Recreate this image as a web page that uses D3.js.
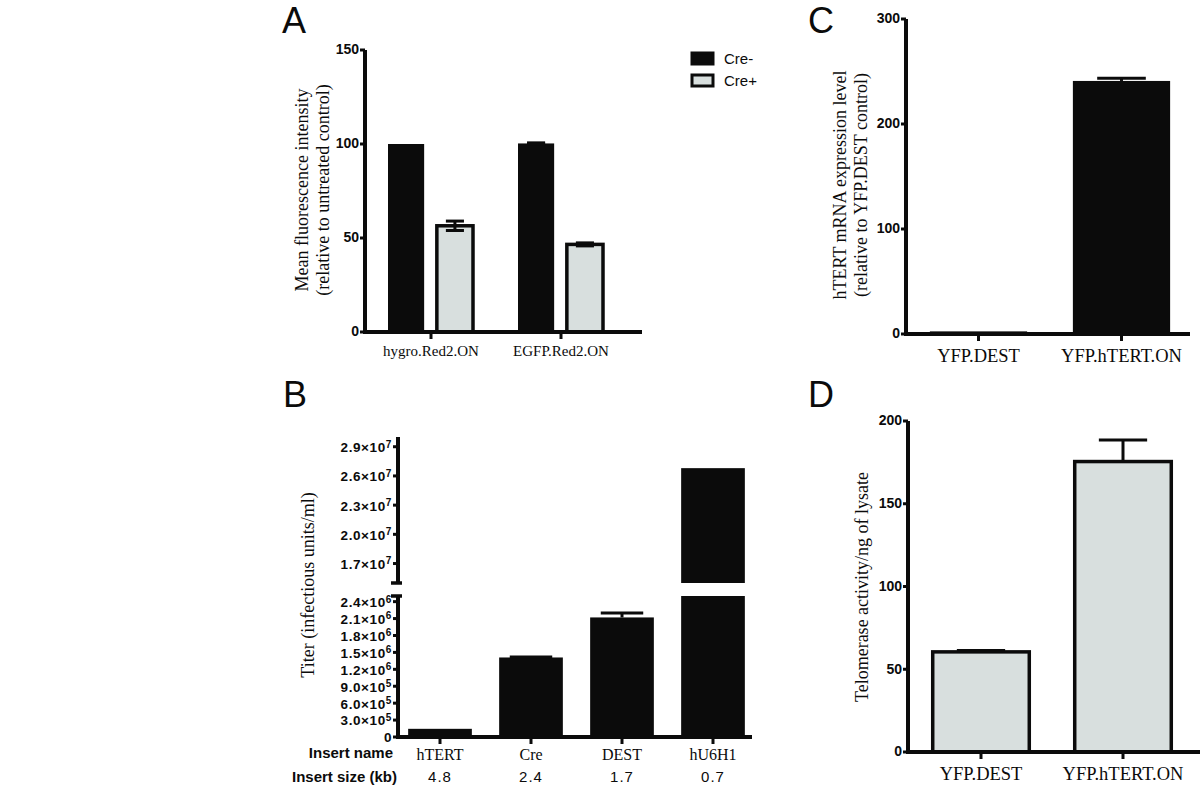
<!DOCTYPE html>
<html><head><meta charset="utf-8">
<script src="https://cdn.jsdelivr.net/npm/d3@7"></script>
<style>
html,body{margin:0;padding:0;background:#fff;}
svg{display:block;}
.domain{stroke-width:4px !important;stroke:#0b0b0b !important;}
.tick line{stroke-width:3px !important;stroke:#0b0b0b !important;}
</style></head>
<body>
<svg id="chart" width="1200" height="788"></svg>
<script>
// ---------------- DATA ----------------
// Panel A
const groupsA = ["hygro.Red2.ON", "EGFP.Red2.ON"];
const seriesA = ["Cre-", "Cre+"];
const creMinusA = [100, 100.3];
const creMinusErrA = [0, 0.3];
const crePlusA = [56.5, 46.6];
const crePlusErrA = [2.5, 0.8];
const ticksA = [0, 50, 100, 150];
// Panel B
const namesB = ["hTERT", "Cre", "DEST", "hU6H1"];
const sizesB = ["4.8", "2.4", "1.7", "0.7"];
const valuesB = [1.45e5, 1.41e6, 2.12e6, 2.68e7];
const errB = [0, 0.01e6, 0.08e6, 0];
const ticksBLow = [0, 3e5, 6e5, 9e5, 1.2e6, 1.5e6, 1.8e6, 2.1e6, 2.4e6];
const ticksBHigh = [1.7e7, 2.0e7, 2.3e7, 2.6e7, 2.9e7];
// Panel C
const catsC = ["YFP.DEST", "YFP.hTERT.ON"];
const valuesC = [2.5, 241];
const errC = [0.2, 2.5];
const ticksC = [0, 100, 200, 300];
// Panel D
const catsD = ["YFP.DEST", "YFP.hTERT.ON"];
const valuesD = [60.5, 175.5];
const errD = [0.8, 13];
const ticksD = [0, 50, 100, 150, 200];

// ---------------- STYLE ----------------
const BLACK = "#0b0b0b";
const GRAY = "#d8dfde";
const SANS = "'Liberation Sans', Arial, sans-serif";
const SERIF = "'Liberation Serif', 'Times New Roman', serif";

const svg = d3.select("#chart");

function styleAxis(g, fs) {
  g.selectAll(".domain").style("fill", "none");
  g.selectAll(".tick text").style("fill", BLACK).style("font-family", SANS)
    .style("font-weight", "bold").style("font-size", (fs || 14) + "px");
}
function catLabels(g, fs, yOff) {
  g.selectAll(".tick text").style("font-family", SERIF).style("font-weight", "normal")
    .style("font-size", fs + "px").attr("y", yOff);
}
function panelLetter(t, x, y) {
  svg.append("text").attr("x", x).attr("y", y).text(t)
    .style("font-family", SANS).style("font-size", "36px").style("fill", BLACK);
}
function yTitle(lines, cx, cy, fs) {
  const t = svg.append("text").attr("transform", `translate(${cx},${cy}) rotate(-90)`)
    .attr("text-anchor", "middle").style("font-family", SERIF).style("font-size", fs + "px").style("fill", BLACK);
  lines.forEach((l, i) => {
    t.append("tspan").attr("x", 0).attr("dy", i === 0 ? 0 : "1.15em").text(l);
  });
}
function errBar(g, cx, yTop, yBot, halfW, both, yCenter) {
  const st = s => s.style("stroke", BLACK).style("stroke-width", "3px");
  st(g.append("line").attr("x1", cx).attr("x2", cx).attr("y1", yTop).attr("y2", both ? yBot : yCenter));
  st(g.append("line").attr("x1", cx - halfW).attr("x2", cx + halfW).attr("y1", yTop).attr("y2", yTop));
  if (both) st(g.append("line").attr("x1", cx - halfW).attr("x2", cx + halfW).attr("y1", yBot).attr("y2", yBot));
}

// ================= PANEL A =================
{
  const y = d3.scaleLinear().domain([0, 150]).range([332, 50]);
  const x0 = d3.scaleBand().domain(groupsA).range([366, 626]);
  const x1 = d3.scaleBand().domain(seriesA).range([22, 107]).paddingInner(0.26);
  const axX = 365;
  const g = svg.append("g");
  const data = groupsA.map((grp, i) => [
    {grp, s: "Cre-", v: creMinusA[i], e: creMinusErrA[i]},
    {grp, s: "Cre+", v: crePlusA[i], e: crePlusErrA[i]}
  ]).flat();
  data.forEach(d => {
    const bx = x0(d.grp) + x1(d.s), bw = x1.bandwidth();
    const isMinus = d.s === "Cre-";
    g.append("rect").attr("x", bx).attr("y", y(d.v)).attr("width", bw).attr("height", y(0) - y(d.v))
      .style("fill", isMinus ? BLACK : GRAY).style("stroke", BLACK).style("stroke-width", isMinus ? "0px" : "3.5px");
    if (d.e > 0) errBar(g, bx + bw / 2, y(d.v + d.e), y(d.v - d.e), bw / 4, true, y(d.v));
  });
  const ya = svg.append("g").attr("transform", `translate(${axX},0)`)
    .call(d3.axisLeft(y).tickValues(ticksA).tickSize(5).tickSizeOuter(0).tickFormat(d3.format("d")).offset(0));
  styleAxis(ya);
  ya.selectAll(".tick text").attr("x", -6);
  const xa = svg.append("g").attr("transform", `translate(0,${y(0)})`)
    .call(d3.axisBottom(x0).tickSize(7).tickSizeOuter(0).offset(0));
  styleAxis(xa);
  xa.select(".domain").attr("d", `M${axX - 2},0H642`);
  catLabels(xa, 15, 13);
  // legend
  const lg = svg.append("g");
  seriesA.forEach((s, i) => {
    lg.append("rect").attr("x", 692).attr("y", 53 + i * 22).attr("width", 21).attr("height", 11)
      .style("fill", i === 0 ? BLACK : GRAY).style("stroke", BLACK).style("stroke-width", "3px");
    lg.append("text").attr("x", 724).attr("y", 64 + i * 22).text(s)
      .style("font-family", SANS).style("font-size", "15px").style("fill", BLACK);
  });
  yTitle(["Mean fluorescence intensity", "(relative to untreated control)"], 308, 190, 18);
  panelLetter("A", 282, 33);
}

// ================= PANEL B =================
{
  const axX = 398;
  const yLow = d3.scaleLinear().domain([0, 2.5e6]).range([737, 596]);
  const yHigh = d3.scaleLinear().domain([1.5e7, 3.0e7]).range([583, 437]);
  const x = d3.scaleBand().domain(namesB).range([394.5, 758.5]).paddingInner(0.3).paddingOuter(0.15);
  const g = svg.append("g");
  namesB.forEach((n, i) => {
    const v = valuesB[i], bx = x(n), bw = x.bandwidth();
    if (v <= 2.5e6) {
      g.append("rect").attr("x", bx).attr("y", yLow(v)).attr("width", bw).attr("height", yLow(0) - yLow(v)).style("fill", BLACK);
      if (errB[i] > 0) errBar(g, bx + bw / 2, yLow(v + errB[i]), 0, bw / 3, false, yLow(v));
    } else {
      g.append("rect").attr("x", bx).attr("y", yLow(2.5e6)).attr("width", bw).attr("height", yLow(0) - yLow(2.5e6)).style("fill", BLACK);
      g.append("rect").attr("x", bx).attr("y", yHigh(v)).attr("width", bw).attr("height", yHigh(1.5e7) - yHigh(v)).style("fill", BLACK);
    }
  });
  const sciFmt = function(sel) {
    sel.selectAll(".tick text").style("font-size", "13.5px").style("letter-spacing", "0.6px").each(function(d) {
      const t = d3.select(this).text(null);
      if (d === 0) { t.text("0"); return; }
      const ex = Math.floor(Math.log10(d) + 1e-9);
      const m = (d / Math.pow(10, ex)).toFixed(1);
      t.append("tspan").text(m + "×10");
      t.append("tspan").attr("dy", "-0.45em").style("font-size", "10px").text(ex);
    });
  };
  const ylo = svg.append("g").attr("transform", `translate(${axX},0)`)
    .call(d3.axisLeft(yLow).tickValues(ticksBLow).tickSize(5).tickSizeOuter(0).offset(0));
  styleAxis(ylo); sciFmt(ylo); ylo.selectAll(".tick text").attr("x", -6).attr("dy", "0.4em");
  const yhi = svg.append("g").attr("transform", `translate(${axX},0)`)
    .call(d3.axisLeft(yHigh).tickValues(ticksBHigh).tickSize(5).tickSizeOuter(0).offset(0));
  styleAxis(yhi); sciFmt(yhi); yhi.selectAll(".tick text").attr("x", -6).attr("dy", "0.4em");
  // break caps
  [yHigh(1.5e7), yLow(2.5e6)].forEach(yy => {
    svg.append("line").attr("x1", axX - 7).attr("x2", axX + 4).attr("y1", yy).attr("y2", yy)
      .style("stroke", BLACK).style("stroke-width", "3.5px");
  });
  const xa = svg.append("g").attr("transform", `translate(0,${yLow(0)})`)
    .call(d3.axisBottom(x).tickSize(7).tickSizeOuter(0).offset(0));
  styleAxis(xa);
  xa.select(".domain").attr("d", `M${axX - 2},0H752`);
  catLabels(xa, 16, 12);
  // insert size row
  namesB.forEach((n, i) => {
    svg.append("text").attr("x", x(n) + x.bandwidth() / 2).attr("y", 782).attr("text-anchor", "middle")
      .style("font-family", SANS).style("font-size", "15px").style("letter-spacing", "1px")
      .style("fill", BLACK).text(sizesB[i]);
  });
  svg.append("text").attr("x", 393).attr("y", 758).attr("text-anchor", "end").style("font-family", SANS)
    .style("font-weight", "bold").style("font-size", "15px").style("fill", BLACK).text("Insert name");
  svg.append("text").attr("x", 397).attr("y", 782).attr("text-anchor", "end").style("font-family", SANS)
    .style("font-weight", "bold").style("font-size", "15px").style("fill", BLACK).text("Insert size (kb)");
  yTitle(["Titer (infectious units/ml)"], 314, 585, 18);
  panelLetter("B", 283, 407);
}

// ================= PANEL C =================
{
  const axX = 906;
  const y = d3.scaleLinear().domain([0, 300]).range([334, 19]);
  const x = d3.scaleBand().domain(catsC).range([907, 1193]).paddingInner(0.32).paddingOuter(0.16);
  const g = svg.append("g");
  catsC.forEach((c, i) => {
    const bx = x(c), bw = x.bandwidth(), v = valuesC[i];
    g.append("rect").attr("x", bx).attr("y", y(v)).attr("width", bw).attr("height", y(0) - y(v)).style("fill", BLACK);
    if (i === 1) errBar(g, bx + bw / 2, y(v + errC[i]), 0, bw / 4, false, y(v));
  });
  const ya = svg.append("g").attr("transform", `translate(${axX},0)`)
    .call(d3.axisLeft(y).tickValues(ticksC).tickSize(5).tickSizeOuter(0).tickFormat(d3.format("d")).offset(0));
  styleAxis(ya); ya.selectAll(".tick text").attr("x", -6);
  const xa = svg.append("g").attr("transform", `translate(0,${y(0)})`)
    .call(d3.axisBottom(x).tickSize(7).tickSizeOuter(0).offset(0));
  styleAxis(xa);
  xa.select(".domain").attr("d", `M${axX - 2},0H1190`);
  catLabels(xa, 18.5, 15);
  yTitle(["hTERT mRNA expression level", "(relative to YFP.DEST control)"], 846, 185, 18);
  panelLetter("C", 808, 33);
}

// ================= PANEL D =================
{
  const axX = 908;
  const y = d3.scaleLinear().domain([0, 200]).range([752, 421]);
  const x = d3.scaleBand().domain(catsD).range([910, 1194]).paddingInner(0.32).paddingOuter(0.16);
  const g = svg.append("g");
  catsD.forEach((c, i) => {
    const bx = x(c), bw = x.bandwidth(), v = valuesD[i];
    errBar(g, bx + bw / 2, y(v + errD[i]), 0, bw / 4, false, y(v));
    g.append("rect").attr("x", bx).attr("y", y(v)).attr("width", bw).attr("height", y(0) - y(v))
      .style("fill", GRAY).style("stroke", BLACK).style("stroke-width", "3.5px");
  });
  const ya = svg.append("g").attr("transform", `translate(${axX},0)`)
    .call(d3.axisLeft(y).tickValues(ticksD).tickSize(5).tickSizeOuter(0).tickFormat(d3.format("d")).offset(0));
  styleAxis(ya); ya.selectAll(".tick text").attr("x", -6);
  const xa = svg.append("g").attr("transform", `translate(0,${y(0)})`)
    .call(d3.axisBottom(x).tickSize(7).tickSizeOuter(0).offset(0));
  styleAxis(xa);
  xa.select(".domain").attr("d", `M${axX - 2},0H1200`);
  catLabels(xa, 18.5, 15);
  yTitle(["Telomerase activity/ng of lysate"], 868, 587, 18);
  panelLetter("D", 808, 407);
}
</script>
</body></html>
